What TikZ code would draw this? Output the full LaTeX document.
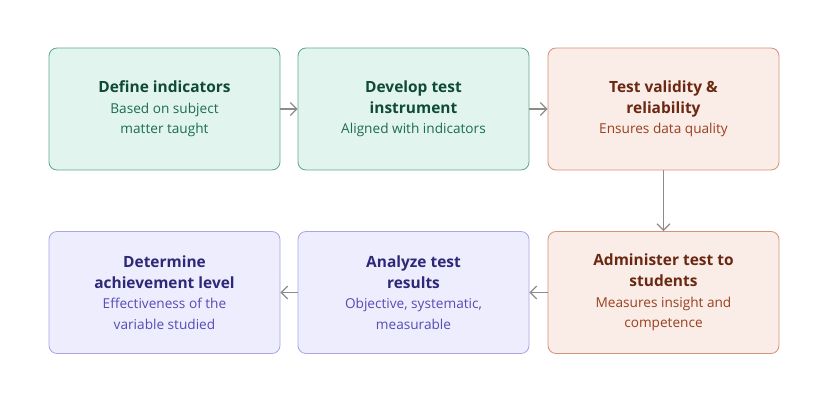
\documentclass[tikz,border=0pt]{standalone}
\usepackage{fontspec}
\setmainfont{Open Sans}
\usetikzlibrary{arrows.meta}
\definecolor{greenfill}{HTML}{E1F5EE}
\definecolor{greenline}{HTML}{5FA98B}
\definecolor{greenhead}{HTML}{0F4A37}
\definecolor{greentext}{HTML}{1D6B52}
\definecolor{peachfill}{HTML}{FAECE7}
\definecolor{peachline}{HTML}{D8917A}
\definecolor{peachhead}{HTML}{6A2812}
\definecolor{peachtext}{HTML}{99401F}
\definecolor{lilacfill}{HTML}{EEEDFE}
\definecolor{lilacline}{HTML}{A9A5E6}
\definecolor{lilachead}{HTML}{2D2878}
\definecolor{lilactext}{HTML}{554CB5}
\definecolor{flowgray}{HTML}{8C8C88}
\newcommand{\steptitle}[1]{{\bfseries\fontsize{11}{14.6}\selectfont #1}}
\begin{document}
\begin{tikzpicture}[
  card/.style={rounded corners=0.2cm, line width=0.6pt, minimum width=5.775cm,
    minimum height=3.05cm, align=center, font=\fontsize{9.7}{14.6}\selectfont},
  greencard/.style={card, fill=greenfill, draw=greenline, text=greentext},
  peachcard/.style={card, fill=peachfill, draw=peachline, text=peachtext},
  lilaccard/.style={card, fill=lilacfill, draw=lilacline, text=lilactext},
  flow/.style={draw=flowgray, line width=0.8pt, -{Straight Barb[length=1.6mm, width=3.2mm]}}
]
\useasboundingbox (0,0) rectangle (20.775,10.15);
% top row
\node[greencard] (define) at (4.1125,7.425)
  {\textcolor{greenhead}{\steptitle{Define indicators}}\\Based on subject\\matter taught};
\node[greencard] (develop) at (10.3375,7.425)
  {\textcolor{greenhead}{\steptitle{Develop test}}\\\textcolor{greenhead}{\steptitle{instrument}}\\Aligned with indicators};
\node[peachcard] (validity) at (16.5875,7.425)
  {\textcolor{peachhead}{\steptitle{Test validity \&}}\\\textcolor{peachhead}{\steptitle{reliability}}\\Ensures data quality};
% bottom row
\node[peachcard] (administer) at (16.5875,2.8375)
  {\textcolor{peachhead}{\steptitle{Administer test to}}\\\textcolor{peachhead}{\steptitle{students}}\\Measures insight and\\competence};
\node[lilaccard] (analyze) at (10.3375,2.8375)
  {\textcolor{lilachead}{\steptitle{Analyze test}}\\\textcolor{lilachead}{\steptitle{results}}\\Objective, systematic,\\measurable};
\node[lilaccard] (determine) at (4.1125,2.8375)
  {\textcolor{lilachead}{\steptitle{Determine}}\\\textcolor{lilachead}{\steptitle{achievement level}}\\Effectiveness of the\\variable studied};
% connectors
\draw[flow] (define) -- (develop);
\draw[flow] (develop) -- (validity);
\draw[flow] (validity) -- (administer);
\draw[flow] (administer) -- (analyze);
\draw[flow] (analyze) -- (determine);
\end{tikzpicture}
\end{document}
